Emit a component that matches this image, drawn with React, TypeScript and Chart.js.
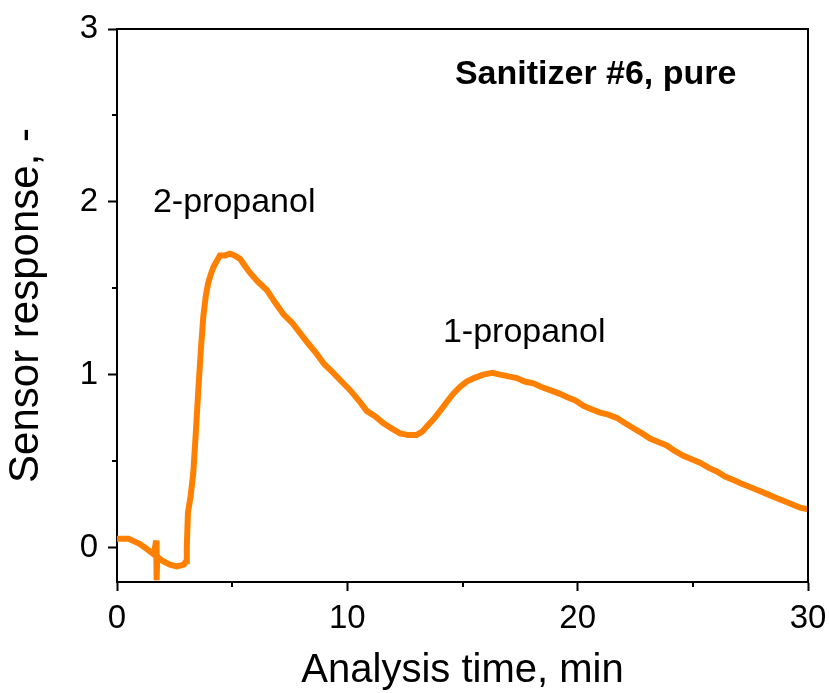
import React, { useEffect, useRef } from "react";
import { Chart, registerables } from "chart.js";

Chart.register(...registerables);

// Analysis time (min)
const timeMin = [
  0, 0.5, 1.0, 1.3, 1.6, 1.7, 1.72, 1.75, 1.8, 2.0, 2.3, 2.6, 2.9, 3.0, 3.03, 3.08,
  3.2, 3.31, 3.42, 3.53, 3.64, 3.75, 3.86, 3.96, 4.07, 4.18, 4.3, 4.47, 4.7, 4.9,
  5.1, 5.34, 5.55, 5.77, 6.1, 6.5, 6.85, 7.22, 7.6, 7.95, 8.3, 8.67, 9.0, 9.39,
  9.75, 10.12, 10.5, 10.84, 11.2, 11.56, 11.9, 12.29, 12.65, 13.0, 13.25, 13.45,
  13.73, 14.03, 14.31, 14.6, 14.9, 15.18, 15.5, 15.9, 16.3, 16.63, 17.0, 17.36,
  17.7, 18.08, 18.4, 18.8, 19.2, 19.53, 19.9, 20.25, 20.6, 20.97, 21.3, 21.7,
  22.05, 22.42, 22.8, 23.14, 23.5, 23.87, 24.2, 24.59, 24.95, 25.31, 25.7, 26.04,
  26.4, 26.76, 27.1, 27.48, 27.85, 28.21, 28.55, 28.93, 29.3, 29.66, 30,
];

// Sensor response (-)
const sensorResponse = [
  0.05, 0.05, 0.02, -0.01, -0.04, 0.04, -0.19, -0.05, -0.06, -0.08, -0.1, -0.11, -0.1, -0.08, 0.0, 0.2,
  0.3, 0.43, 0.66, 0.91, 1.14, 1.34, 1.46, 1.53, 1.58, 1.62, 1.65, 1.69, 1.69, 1.7,
  1.69, 1.67, 1.63, 1.59, 1.54, 1.49, 1.42, 1.35, 1.3, 1.24, 1.18, 1.12, 1.06, 1.01,
  0.96, 0.91, 0.85, 0.79, 0.76, 0.72, 0.69, 0.66, 0.65, 0.65, 0.67, 0.7,
  0.74, 0.79, 0.84, 0.89, 0.93, 0.96, 0.98, 1.0, 1.01, 1.0, 0.99, 0.98,
  0.96, 0.95, 0.93, 0.91, 0.89, 0.87, 0.85, 0.82, 0.8, 0.78, 0.77, 0.75,
  0.72, 0.69, 0.66, 0.63, 0.61, 0.59, 0.56, 0.53, 0.51, 0.49, 0.46, 0.44,
  0.41, 0.39, 0.37, 0.35, 0.33, 0.31, 0.29, 0.27, 0.25, 0.23, 0.22,
];

const xMajorTicks = [0, 10, 20, 30];
const xMinorTicks = [5, 15, 25];
const yMajorTicks = [0, 1, 2, 3];
const yMinorTicks = [0.5, 1.5, 2.5];

// Annotations
const annotationTexts = ["2-propanol", "1-propanol", "Sanitizer #6, pure"];
const annotationX = [1.56, 14.15, 14.67];
const annotationY = [1.94, 1.19, 2.68];
const annotationBold = [false, false, true];

const FONT = '"Liberation Sans", Arial, sans-serif';

const framePlugin = {
  id: "frameAndExtras",
  afterDraw(chart: any) {
    const { ctx, chartArea, scales } = chart;
    const xs = scales.x;
    const ys = scales.y;
    ctx.save();
    ctx.strokeStyle = "#000";
    ctx.lineWidth = 2;
    ctx.beginPath();
    ctx.moveTo(chartArea.left - 1, chartArea.top);
    ctx.lineTo(chartArea.right, chartArea.top);
    ctx.lineTo(chartArea.right, chartArea.bottom);
    ctx.stroke();
    ctx.beginPath();
    for (const v of xMinorTicks) {
      const px = Math.round(xs.getPixelForValue(v));
      ctx.moveTo(px, chartArea.bottom);
      ctx.lineTo(px, chartArea.bottom + 5);
    }
    for (const v of yMinorTicks) {
      const py = Math.round(ys.getPixelForValue(v));
      ctx.moveTo(chartArea.left, py);
      ctx.lineTo(chartArea.left - 5, py);
    }
    ctx.stroke();
    ctx.fillStyle = "#000";
    ctx.textBaseline = "alphabetic";
    ctx.textAlign = "left";
    annotationTexts.forEach((t, i) => {
      ctx.font = annotationBold[i] ? `bold 34px ${FONT}` : `34px ${FONT}`;
      ctx.fillText(t, xs.getPixelForValue(annotationX[i]), ys.getPixelForValue(annotationY[i]));
    });
    ctx.restore();
  },
};

export default function App() {
  const ref = useRef<HTMLCanvasElement | null>(null);

  useEffect(() => {
    if (!ref.current) return;
    const chart = new Chart(ref.current, {
      type: "line",
      data: {
        datasets: [
          {
            data: timeMin.map((t, i) => ({ x: t, y: sensorResponse[i] })),
            borderColor: "#ff8000",
            borderWidth: 6,
            pointRadius: 0,
            tension: 0,
            fill: false,
          },
        ],
      },
      options: {
        responsive: false,
        animation: false,
        devicePixelRatio: 1,
        layout: { padding: { top: 29, right: 21, left: 0, bottom: 0 } },
        plugins: {
          legend: { display: false },
          tooltip: { enabled: false },
        },
        scales: {
          x: {
            type: "linear",
            min: 0,
            max: 30,
            afterBuildTicks: (s: any) => {
              s.ticks = xMajorTicks.map((v) => ({ value: v }));
            },
            afterFit: (s: any) => {
              s.height = 111;
              s.paddingLeft = 0;
              s.paddingRight = 0;
            },
            grid: {
              drawOnChartArea: false,
              drawTicks: true,
              tickLength: 9,
              tickWidth: 2,
              tickColor: "#000",
            },
            border: { display: true, color: "#000", width: 2 },
            ticks: {
              color: "#000",
              font: { family: FONT, size: 33 },
              padding: 8,
              maxRotation: 0,
              autoSkip: false,
            },
            title: {
              display: true,
              text: "Analysis time, min",
              color: "#000",
              font: { family: FONT, size: 40 },
              padding: { top: 0, bottom: -2 },
            },
          },
          y: {
            type: "linear",
            min: -0.2,
            max: 3,
            afterBuildTicks: (s: any) => {
              s.ticks = yMajorTicks.map((v) => ({ value: v }));
            },
            afterFit: (s: any) => {
              s.width = 117;
              s.paddingTop = 0;
              s.paddingBottom = 0;
            },
            grid: {
              drawOnChartArea: false,
              drawTicks: true,
              tickLength: 9,
              tickWidth: 2,
              tickColor: "#000",
            },
            border: { display: true, color: "#000", width: 2 },
            ticks: {
              color: "#000",
              font: { family: FONT, size: 33 },
              padding: 10,
              autoSkip: false,
            },
            title: {
              display: true,
              text: "Sensor response, -",
              color: "#000",
              font: { family: FONT, size: 42 },
              padding: { top: 1, bottom: 0 },
            },
          },
        },
      },
      plugins: [framePlugin],
    });
    return () => chart.destroy();
  }, []);

  return (
    <div style={{ position: "absolute", left: 0, top: 0, width: 829, height: 693, background: "#fff" }}>
      <canvas ref={ref} width={829} height={693} style={{ width: 829, height: 693, display: "block" }} />
    </div>
  );
}
